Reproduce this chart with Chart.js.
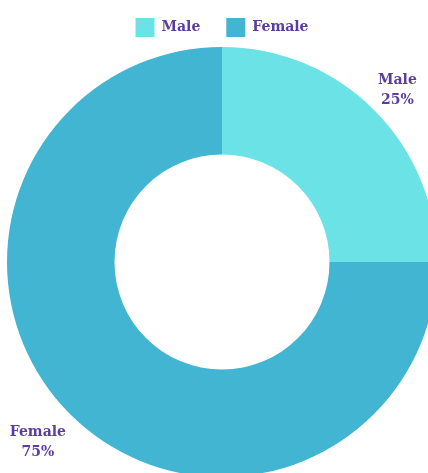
<!DOCTYPE html>
<html>
<head>
<meta charset="utf-8">
<script src="https://cdn.jsdelivr.net/npm/chart.js@4"></script>
<style>
  html, body { margin: 0; padding: 0; background: #fff; overflow: hidden; }
  #wrap { position: absolute; left: 0; top: 0; width: 444px; height: 477px; }
</style>
</head>
<body>
<div id="wrap"><canvas id="genderChart" width="444" height="477"></canvas></div>
<script>
// Gender split
const labels = ['Male', 'Female'];
const counts = [25, 75];
const colors = ['#6AE2E6', '#42B5D3'];

const textColor = '#5B3D9F';
const labelFont = 'bold 14px "DejaVu Serif"';

// Draws "name / percent" just outside each slice, pushed out by its own box size
const outerLabels = {
    id: 'outerLabels',
    afterDatasetsDraw(chart) {
        const ctx = chart.ctx;
        const meta = chart.getDatasetMeta(0);
        const values = chart.data.datasets[0].data;
        const total = values.reduce((a, b) => a + b, 0);
        const lineH = 20, pad = 4, nudge = 4;
        ctx.save();
        ctx.font = labelFont;
        ctx.fillStyle = textColor;
        ctx.textAlign = 'center';
        ctx.textBaseline = 'middle';
        meta.data.forEach((arc, i) => {
            const p = arc.getProps(['x', 'y', 'startAngle', 'endAngle', 'outerRadius'], true);
            const mid = (p.startAngle + p.endAngle) / 2;
            const vx = Math.cos(mid), vy = Math.sin(mid);
            const lines = [chart.data.labels[i], Math.round(values[i] / total * 100) + '%'];
            const w = Math.max(...lines.map(t => ctx.measureText(t).width)) + pad * 2;
            const h = lines.length * lineH + pad * 2;
            const vs = 1 / Math.max(Math.abs(vx), Math.abs(vy));
            const cx = p.x + vx * p.outerRadius + (w / 2) * vx * vs;
            const cy = p.y + vy * p.outerRadius + (h / 2) * vy * vs + nudge;
            lines.forEach((t, k) => {
                ctx.fillText(t, cx, cy - h / 2 + pad + lineH * (k + 0.5));
            });
        });
        ctx.restore();
    }
};

const ctx = document.getElementById('genderChart').getContext('2d');
new Chart(ctx, {
    type: 'doughnut',
    data: {
        labels: labels,
        datasets: [{
            data: counts,
            backgroundColor: colors,
            borderWidth: 0,
            hoverOffset: 0
        }]
    },
    options: {
        responsive: false,
        animation: false,
        devicePixelRatio: 1,
        cutout: '50%',
        layout: { padding: { top: -8 } },
        plugins: {
            legend: {
                position: 'top',
                labels: {
                    boxWidth: 19,
                    boxHeight: 19,
                    padding: 26,
                    color: textColor,
                    font: { family: '"DejaVu Serif"', size: 14, weight: 'bold' }
                }
            },
            tooltip: { enabled: false }
        }
    },
    plugins: [outerLabels]
});
</script>
</body>
</html>
